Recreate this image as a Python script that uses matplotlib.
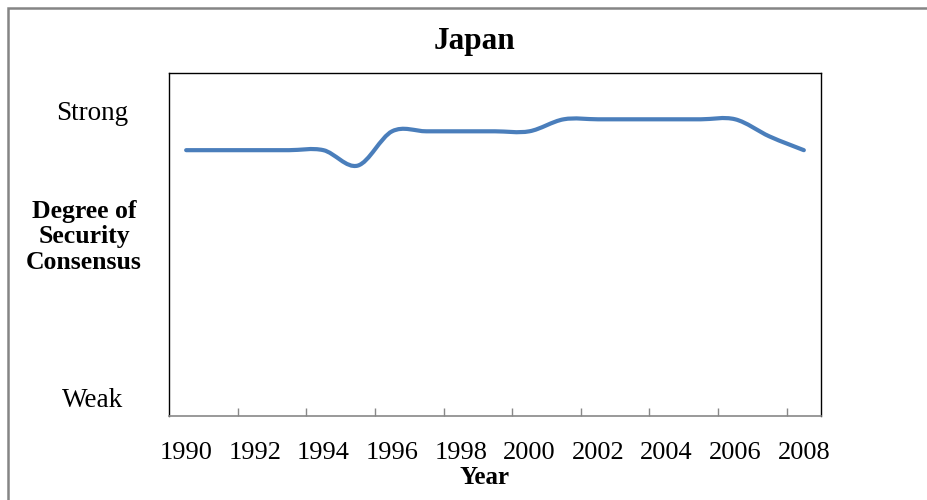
"""Japan - degree of security consensus, 1990-2008"""
import matplotlib
matplotlib.use('Agg')
import matplotlib.pyplot as plt
from matplotlib.path import Path
from matplotlib.patches import PathPatch, Rectangle

# data (0 = weak ... 10 = strong)
years = [1990, 1991, 1992, 1993, 1994, 1995, 1996, 1997, 1998, 1999,
         2000, 2001, 2002, 2003, 2004, 2005, 2006, 2007, 2008]
consensus = [7.75, 7.75, 7.75, 7.75, 7.75, 7.3, 8.3, 8.3, 8.3, 8.3,
             8.3, 8.65, 8.65, 8.65, 8.65, 8.65, 8.65, 8.15, 7.75]
tick_years = years[::2]
level_pos = [0.55, 8.9]
level_labels = ['Weak', 'Strong']

SERIF = ['Liberation Serif', 'DejaVu Serif']
LINE_COLOR = '#4A7EBB'


def smooth_path(xs, ys):
    """Excel-style smoothed line as cubic Bezier segments"""
    pts = list(zip(xs, ys))
    verts = [pts[0]]
    codes = [Path.MOVETO]
    n = len(pts)
    for i in range(n - 1):
        p0 = pts[max(i - 1, 0)]
        p1 = pts[i]
        p2 = pts[i + 1]
        p3 = pts[min(i + 2, n - 1)]
        c1 = (p1[0] + (p2[0] - p0[0]) / 6, p1[1] + (p2[1] - p0[1]) / 6)
        c2 = (p2[0] - (p3[0] - p1[0]) / 6, p2[1] - (p3[1] - p1[1]) / 6)
        verts += [c1, c2, p2]
        codes += [Path.CURVE4] * 3
    return Path(verts, codes)


W, H = 927, 500
fig = plt.figure(figsize=(W / 100, H / 100), dpi=100)

# outer frame (only the top and left edges are inside the picture)
fig.patches.append(Rectangle((8 / W, -0.1), 1.2, (H - 8) / H + 0.1,
                             transform=fig.transFigure, fill=False,
                             edgecolor='#858585', linewidth=1.8))

ax = fig.add_axes([169 / W, (H - 416) / H, (821 - 169) / W, (416 - 73) / H])
ax.add_patch(PathPatch(smooth_path(years, consensus), fill=False,
                       edgecolor=LINE_COLOR, linewidth=3.0,
                       capstyle='round', joinstyle='round'))

ax.set_xlim(years[0] - 0.5, years[-1] + 0.5)
ax.set_ylim(0, 10)

# category labels without marks, marks on category boundaries
ax.set_xticks(tick_years)
ax.set_xticklabels([str(y) for y in tick_years], family=SERIF, fontsize=19)
ax.tick_params(axis='x', which='major', length=0, pad=19)
ax.set_xticks([y + 1.5 for y in tick_years[:-1]], minor=True)
ax.tick_params(axis='x', which='minor', direction='in', length=6,
               color='#888888', width=1)

ax.set_yticks(level_pos)
ax.set_yticklabels(level_labels, family=SERIF, fontsize=19.5, ha='center')
ax.tick_params(axis='y', length=0, pad=55)

for side in ['top', 'right', 'left']:
    ax.spines[side].set_color('black')
    ax.spines[side].set_linewidth(1.0)
ax.spines['bottom'].set_color('#888888')
ax.spines['bottom'].set_linewidth(1.2)

fig.text(475 / W, 1 - 42 / H, 'Japan', family=SERIF, fontsize=22.5,
         fontweight='bold', ha='center', va='center')
fig.text(484 / W, 1 - 478 / H, 'Year', family=SERIF, fontsize=18,
         fontweight='bold', ha='center', va='center')
fig.text(84 / W, 1 - 237 / H, 'Degree of\nSecurity\nConsensus', family=SERIF,
         fontsize=18.5, fontweight='bold', ha='center', va='center',
         linespacing=1.15)

plt.savefig('out.png', dpi=100)
plt.close()
